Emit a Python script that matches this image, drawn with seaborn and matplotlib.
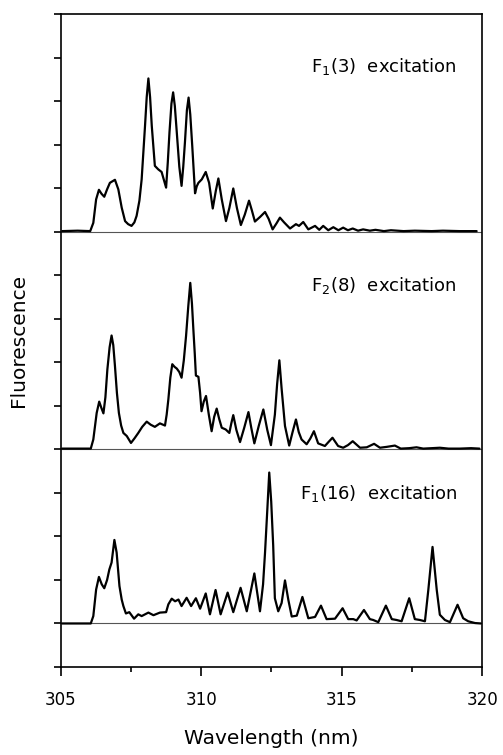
import matplotlib
matplotlib.use("Agg")
import matplotlib.pyplot as plt
import seaborn as sns
import numpy as np

# spectra: wavelength (nm) and intensity above each baseline
wl_f1_3 = [305.05, 305.60, 306.05, 306.16, 306.26, 306.36, 306.45, 306.55, 306.65, 306.75,
           306.93, 307.05, 307.17, 307.29, 307.40, 307.52, 307.62, 307.70, 307.80, 307.88,
           308.00, 308.06, 308.12, 308.18, 308.24, 308.35, 308.47, 308.59, 308.67, 308.75,
           308.81, 308.87, 308.94, 309.00, 309.06, 309.13, 309.22, 309.30, 309.36, 309.42,
           309.49, 309.55, 309.61, 309.68, 309.78, 309.84, 309.90, 310.02, 310.16, 310.28,
           310.41, 310.52, 310.61, 310.73, 310.88, 311.00, 311.14, 311.27, 311.41, 311.55,
           311.70, 311.80, 311.91, 312.10, 312.27, 312.40, 312.54, 312.68, 312.80, 312.95,
           313.16, 313.37, 313.48, 313.63, 313.81, 314.05, 314.20, 314.34, 314.52, 314.70,
           314.88, 315.05, 315.22, 315.39, 315.58, 315.76, 316.00, 316.20, 316.50, 316.75,
           317.20, 317.60, 318.20, 318.60, 319.20, 319.80]
int_f1_3 = [0.02, 0.03, 0.02, 0.21, 0.75, 0.97, 0.88, 0.81, 0.98, 1.13,
            1.20, 0.98, 0.56, 0.25, 0.18, 0.14, 0.22, 0.37, 0.72, 1.21,
            2.44, 3.10, 3.53, 3.10, 2.44, 1.52, 1.44, 1.38, 1.20, 1.02,
            1.60, 2.29, 2.95, 3.21, 2.90, 2.29, 1.50, 1.06, 1.50, 2.06,
            2.80, 3.09, 2.70, 1.98, 0.89, 1.05, 1.13, 1.21, 1.38, 1.13,
            0.54, 0.95, 1.23, 0.75, 0.25, 0.55, 1.00, 0.55, 0.16, 0.40,
            0.72, 0.50, 0.24, 0.35, 0.46, 0.30, 0.06, 0.20, 0.33, 0.22,
            0.08, 0.18, 0.14, 0.23, 0.06, 0.14, 0.05, 0.14, 0.04, 0.11,
            0.04, 0.10, 0.04, 0.08, 0.03, 0.06, 0.03, 0.05, 0.02, 0.04,
            0.02, 0.03, 0.02, 0.03, 0.02, 0.02]

wl_f2_8 = [305.05, 305.60, 306.07, 306.16, 306.28, 306.37, 306.45, 306.52, 306.59, 306.66,
           306.74, 306.81, 306.87, 306.93, 307.00, 307.07, 307.15, 307.23, 307.35, 307.50,
           307.63, 307.76, 307.90, 308.06, 308.20, 308.35, 308.53, 308.71, 308.77, 308.83,
           308.90, 308.97, 309.05, 309.13, 309.22, 309.30, 309.38, 309.46, 309.54, 309.61,
           309.67, 309.72, 309.77, 309.81, 309.90, 309.96, 310.01, 310.09, 310.17, 310.27,
           310.37, 310.46, 310.55, 310.64, 310.73, 310.87, 311.00, 311.07, 311.14, 311.25,
           311.38, 311.53, 311.68, 311.78, 311.89, 312.05, 312.21, 312.35, 312.48, 312.62,
           312.70, 312.78, 312.86, 312.98, 313.13, 313.25, 313.37, 313.47, 313.57, 313.75,
           313.88, 314.01, 314.16, 314.40, 314.54, 314.67, 314.87, 315.05, 315.22, 315.39,
           315.65, 315.89, 316.15, 316.36, 316.60, 316.89, 317.10, 317.40, 317.66, 317.90,
           318.20, 318.49, 318.80, 319.20, 319.60, 319.90]
int_f2_8 = [0.02, 0.02, 0.02, 0.23, 0.84, 1.10, 0.95, 0.83, 1.20, 1.84,
            2.35, 2.62, 2.40, 1.92, 1.30, 0.84, 0.55, 0.38, 0.31, 0.15,
            0.26, 0.38, 0.52, 0.64, 0.57, 0.52, 0.60, 0.55, 0.80, 1.15,
            1.65, 1.96, 1.90, 1.86, 1.78, 1.65, 2.05, 2.61, 3.30, 3.83,
            3.35, 2.76, 2.20, 1.70, 1.67, 1.30, 0.88, 1.10, 1.23, 0.80,
            0.42, 0.75, 0.94, 0.70, 0.50, 0.46, 0.38, 0.60, 0.79, 0.45,
            0.17, 0.50, 0.86, 0.50, 0.14, 0.55, 0.92, 0.45, 0.10, 0.80,
            1.50, 2.05, 1.40, 0.54, 0.09, 0.40, 0.69, 0.40, 0.23, 0.12,
            0.25, 0.42, 0.14, 0.08, 0.18, 0.27, 0.08, 0.04, 0.10, 0.19,
            0.04, 0.05, 0.13, 0.04, 0.06, 0.09, 0.02, 0.03, 0.05, 0.02,
            0.03, 0.04, 0.02, 0.02, 0.03, 0.02]

wl_f1_16 = [305.05, 305.60, 306.07, 306.16, 306.26, 306.36, 306.46, 306.55, 306.65, 306.73,
            306.81, 306.91, 306.99, 307.09, 307.17, 307.23, 307.32, 307.44, 307.61, 307.76,
            307.88, 308.12, 308.30, 308.53, 308.75, 308.83, 308.95, 309.07, 309.19, 309.30,
            309.48, 309.64, 309.81, 309.96, 310.16, 310.31, 310.51, 310.69, 310.94, 311.14,
            311.40, 311.62, 311.89, 312.09, 312.20, 312.27, 312.35, 312.42, 312.49, 312.56,
            312.62, 312.74, 312.86, 312.98, 313.10, 313.22, 313.40, 313.60, 313.81, 314.05,
            314.26, 314.46, 314.76, 315.03, 315.23, 315.41, 315.53, 315.79, 316.00, 316.12,
            316.30, 316.57, 316.78, 316.95, 317.13, 317.40, 317.60, 317.78, 317.96, 318.08,
            318.23, 318.38, 318.49, 318.67, 318.85, 319.12, 319.32, 319.50, 319.74, 319.95]
int_f1_16 = [0.00, 0.00, 0.00, 0.17, 0.78, 1.07, 0.90, 0.81, 1.00, 1.24,
             1.40, 1.92, 1.63, 0.86, 0.55, 0.40, 0.23, 0.26, 0.11, 0.21,
             0.17, 0.25, 0.19, 0.25, 0.26, 0.44, 0.57, 0.51, 0.55, 0.40,
             0.59, 0.40, 0.58, 0.34, 0.69, 0.21, 0.77, 0.21, 0.71, 0.26,
             0.82, 0.28, 1.15, 0.28, 0.90, 1.63, 2.60, 3.47, 2.80, 1.80,
             0.58, 0.28, 0.47, 0.99, 0.54, 0.16, 0.18, 0.61, 0.12, 0.15,
             0.41, 0.10, 0.11, 0.35, 0.10, 0.10, 0.07, 0.31, 0.10, 0.08,
             0.03, 0.41, 0.10, 0.08, 0.05, 0.58, 0.10, 0.08, 0.05, 0.77,
             1.76, 0.77, 0.20, 0.08, 0.03, 0.43, 0.12, 0.05, 0.01, 0.00]

labels = [r"F$_1$(3)  excitation", r"F$_2$(8)  excitation", r"F$_1$(16)  excitation"]
offsets = [10, 5, 1]
label_y = [13.8, 8.76, 3.98]

sns.set_style("ticks")
plt.rcParams['font.family'] = ['DejaVu Sans']
plt.rcParams['mathtext.fontset'] = 'dejavusans'
plt.rcParams['text.color'] = 'black'
plt.rcParams['axes.labelcolor'] = 'black'
plt.rcParams['xtick.color'] = 'black'
plt.rcParams['ytick.color'] = 'black'

fig = plt.figure(figsize=(5.03, 7.55), dpi=100)
ax = fig.add_axes([0.1207, 0.1166, 0.8381, 0.8642])

spectra = [(wl_f1_3, int_f1_3), (wl_f2_8, int_f2_8), (wl_f1_16, int_f1_16)]
for (wl, inten), off, lab, ly in zip(spectra, offsets, labels, label_y):
    ax.axhline(off, color="#555555", lw=0.8, zorder=1)
    sns.lineplot(x=wl, y=np.asarray(inten) + off, ax=ax, color="black",
                 lw=1.6, estimator=None, sort=False, zorder=2)
    ax.text(319.1, ly, lab, ha="right", va="center", fontsize=13, color="black")

ax.set_xlim(305, 320)
ax.set_ylim(0, 15)
ax.set_xticks([305, 310, 315, 320])
ax.set_xticks([307.5, 312.5, 317.5], minor=True)
ax.set_yticks(range(0, 16))
ax.tick_params(axis="x", which="major", length=6.5, width=1.2, labelsize=12, pad=11)
ax.tick_params(axis="x", which="minor", length=3.5, width=1.2)
ax.tick_params(axis="y", which="major", length=5, width=1.2, labelleft=False)
for s in ax.spines.values():
    s.set_linewidth(1.2)
    s.set_color("black")

ax.set_xlabel("Wavelength (nm)", fontsize=14.5, va="center")
ax.xaxis.set_label_coords(0.5, -0.109)
ax.set_ylabel("Fluorescence", fontsize=14.5, va="center")
ax.yaxis.set_label_coords(-0.100, 0.5)

fig.savefig("out.png", dpi=100)
